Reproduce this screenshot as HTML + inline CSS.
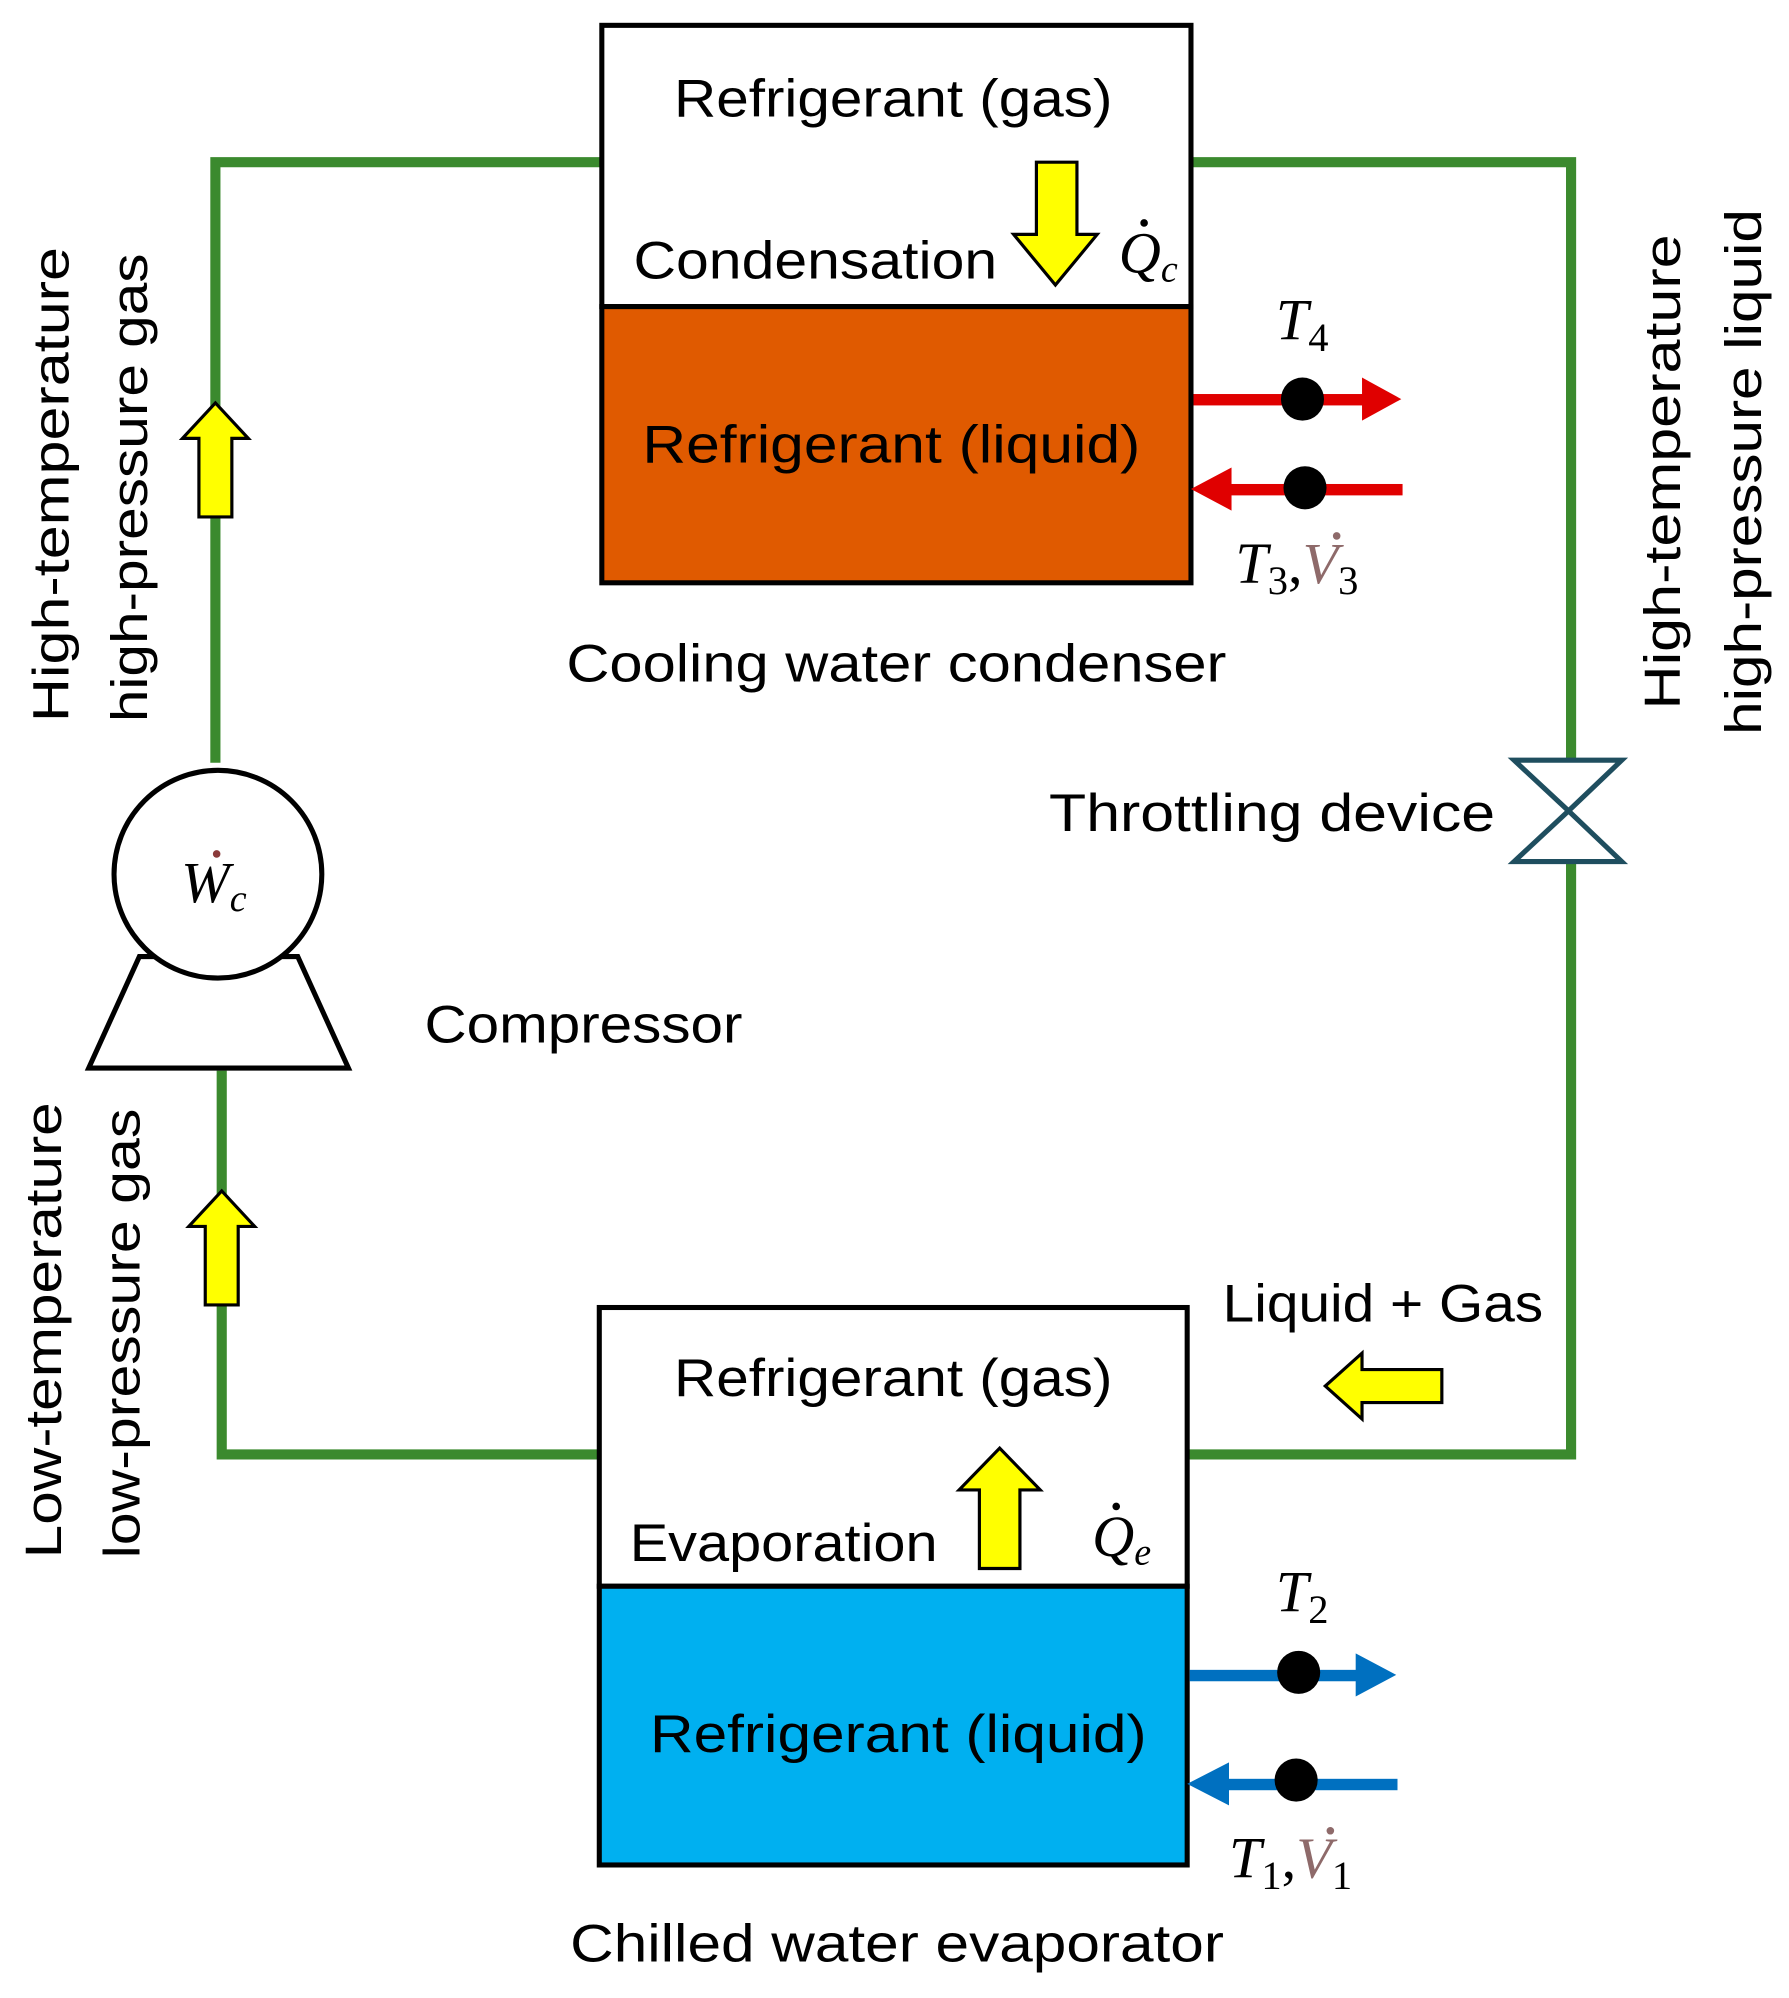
<!DOCTYPE html>
<html><head><meta charset="utf-8"><style>
html,body{margin:0;padding:0;background:#fff;}
svg{display:block;}
text{font-family:"Liberation Sans",sans-serif;fill:#000;}
.m{font-family:"Liberation Serif",serif;font-style:italic;}
.n{font-style:normal;}
</style></head><body>
<svg width="1789" height="1998" viewBox="0 0 1412 1577" preserveAspectRatio="none" xmlns="http://www.w3.org/2000/svg">
<g stroke="#3B8A2E" stroke-width="8" fill="none">
<polyline points="475,128 170,128 170,602"/>
<polyline points="940,128 1240,128 1240,600"/>
<polyline points="1240,680 1240,1148 937,1148"/>
<polyline points="473,1148 175,1148 175,845"/>
</g>
<rect x="475" y="20" width="465" height="222" fill="#fff" stroke="#000" stroke-width="4"/>
<rect x="475" y="242" width="465" height="218" fill="#E05A00" stroke="#000" stroke-width="4"/>
<rect x="473" y="1032" width="464" height="220" fill="#fff" stroke="#000" stroke-width="4"/>
<rect x="473" y="1252" width="464" height="220" fill="#00B0F0" stroke="#000" stroke-width="4"/>
<polygon points="110,755 235,755 275,843 70,843" fill="#fff" stroke="#000" stroke-width="4"/>
<circle cx="172" cy="690" r="82" fill="#fff" stroke="#000" stroke-width="4"/>
<polygon points="1195,600 1280,600 1238,640" fill="#fff" stroke="#1F4E5F" stroke-width="4"/>
<polygon points="1195,680 1280,680 1238,640" fill="#fff" stroke="#1F4E5F" stroke-width="4"/>
<g fill="#FFFF00" stroke="#000" stroke-width="2.5">
<polygon points="157,408 183,408 183,346 196,346 170,318 144,346 157,346"/>
<polygon points="162,1030 188,1030 188,968 201,968 175,940 149,968 162,968"/>
<polygon points="818,128 850,128 850,185 866,185 833,225 800,185 818,185"/>
<polygon points="773,1238 805,1238 805,1176 821,1176 789,1143 757,1176 773,1176"/>
<polygon points="1138,1081 1138,1107 1075,1107 1075,1120 1046,1094 1075,1068 1075,1081"/>
</g>
<g fill="#E00000">
<rect x="942" y="311" width="135" height="9"/><polygon points="1075,298 1106,315 1075,332"/>
<rect x="970" y="382" width="137" height="9"/><polygon points="972,369 940,386 972,403"/>
</g>
<circle cx="1028" cy="315" r="17" fill="#000"/><circle cx="1030" cy="385" r="17" fill="#000"/>
<g fill="#0070C0">
<rect x="939" y="1318" width="135" height="9"/><polygon points="1070,1305 1102,1322 1070,1339"/>
<rect x="968" y="1404" width="135" height="9"/><polygon points="970,1391 937,1408 970,1425"/>
</g>
<circle cx="1025" cy="1320" r="17" fill="#000"/><circle cx="1023" cy="1405" r="17" fill="#000"/>
<g font-size="42">
<text x="532" y="92" textLength="346" lengthAdjust="spacingAndGlyphs">Refrigerant (gas)</text>
<text x="500" y="220" textLength="287" lengthAdjust="spacingAndGlyphs">Condensation</text>
<text x="507" y="365" textLength="393" lengthAdjust="spacingAndGlyphs">Refrigerant (liquid)</text>
<text x="447" y="538" textLength="521" lengthAdjust="spacingAndGlyphs">Cooling water condenser</text>
<text x="828" y="656" textLength="352" lengthAdjust="spacingAndGlyphs">Throttling device</text>
<text x="335" y="823" textLength="251" lengthAdjust="spacingAndGlyphs">Compressor</text>
<text x="965" y="1043" textLength="253" lengthAdjust="spacingAndGlyphs">Liquid + Gas</text>
<text x="532" y="1102" textLength="346" lengthAdjust="spacingAndGlyphs">Refrigerant (gas)</text>
<text x="497" y="1232" textLength="243" lengthAdjust="spacingAndGlyphs">Evaporation</text>
<text x="513" y="1383" textLength="392" lengthAdjust="spacingAndGlyphs">Refrigerant (liquid)</text>
<text x="450" y="1548" textLength="516" lengthAdjust="spacingAndGlyphs">Chilled water evaporator</text>
</g>
<g font-size="40">
<text transform="translate(54,570) rotate(-90)" textLength="375" lengthAdjust="spacingAndGlyphs">High-temperature</text>
<text transform="translate(116,570) rotate(-90)" textLength="370" lengthAdjust="spacingAndGlyphs">high-pressure gas</text>
<text transform="translate(48,1230) rotate(-90)" textLength="360" lengthAdjust="spacingAndGlyphs">Low-temperature</text>
<text transform="translate(110,1230) rotate(-90)" textLength="355" lengthAdjust="spacingAndGlyphs">low-pressure gas</text>
<text transform="translate(1326,560) rotate(-90)" textLength="375" lengthAdjust="spacingAndGlyphs">High-temperature</text>
<text transform="translate(1390,580) rotate(-90)" textLength="415" lengthAdjust="spacingAndGlyphs">high-pressure liquid</text>
</g>
<g font-size="46">
<text class="m" x="883" y="215">Q<tspan font-size="30" dy="7">c</tspan></text>
<text class="m" x="862" y="1228">Q<tspan font-size="30" dy="7">e</tspan></text>
<text class="m" x="143" y="712">W<tspan font-size="30" dy="7">c</tspan></text>
<text class="m" x="1007" y="268">T<tspan class="n" font-size="32" dy="9">4</tspan></text>
<text class="m" x="1007" y="1272">T<tspan class="n" font-size="32" dy="9">2</tspan></text>
<text class="m" x="975" y="460">T<tspan class="n" font-size="32" dy="9">3</tspan><tspan class="n" dy="-9">,</tspan><tspan fill="#8E6A6A">V</tspan><tspan class="n" font-size="32" dy="9">3</tspan></text>
<text class="m" x="970" y="1482">T<tspan class="n" font-size="32" dy="9">1</tspan><tspan class="n" dy="-9">,</tspan><tspan fill="#8E6A6A">V</tspan><tspan class="n" font-size="32" dy="9">1</tspan></text>
</g>
<circle cx="903" cy="176" r="3" fill="#000"/>
<circle cx="881" cy="1189" r="3" fill="#000"/>
<circle cx="171" cy="674" r="3" fill="#8B3A3A"/>
<circle cx="1055" cy="423" r="3" fill="#8E6A6A"/>
<circle cx="1050" cy="1445" r="3" fill="#8E6A6A"/>
</svg>
</body></html>
